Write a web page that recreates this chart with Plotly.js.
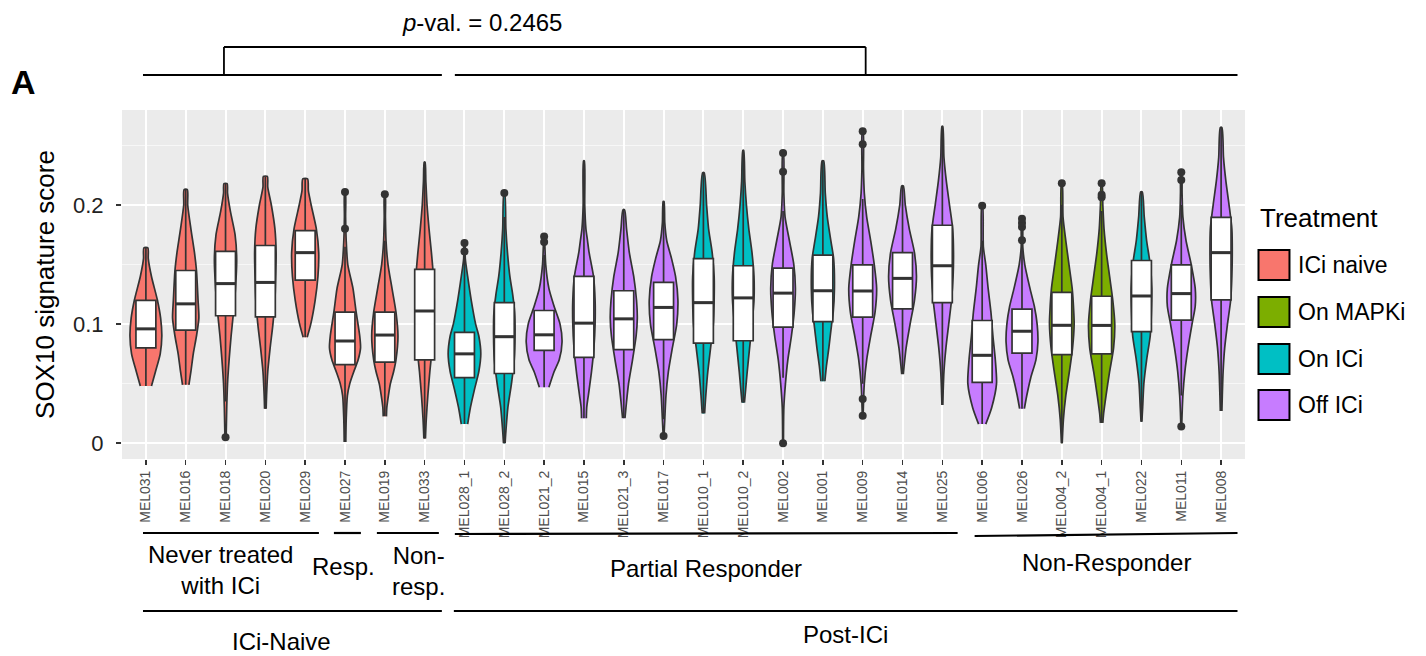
<!DOCTYPE html>
<html><head><meta charset="utf-8">
<script src="https://cdn.plot.ly/plotly-3.0.1.min.js"></script>
<style>html,body{margin:0;padding:0;background:#fff}#chart{width:1426px;height:656px}</style>
</head><body><div id="chart"></div>
<script>
// ---------- data ----------
const samples = ['MEL031','MEL016','MEL018','MEL020','MEL029','MEL027','MEL019','MEL033',
  'MEL028_1','MEL028_2','MEL021_2','MEL015','MEL021_3','MEL017','MEL010_1','MEL010_2',
  'MEL002','MEL001','MEL009','MEL014','MEL025','MEL006','MEL026','MEL004_2','MEL004_1',
  'MEL022','MEL011','MEL008'];
const treatmentLevels = ['ICi naive','On MAPKi','On ICi','Off ICi'];
const treatmentColors = ['#F8766D','#7CAE00','#00BFC4','#C77CFF'];
const treatment = ['ICi naive','ICi naive','ICi naive','ICi naive','ICi naive','ICi naive','ICi naive','ICi naive',
  'On ICi','On ICi','Off ICi','Off ICi','Off ICi','Off ICi','On ICi','On ICi',
  'Off ICi','On ICi','Off ICi','Off ICi','Off ICi','Off ICi','Off ICi','On MAPKi','On MAPKi',
  'On ICi','Off ICi','Off ICi'];
const q1 =     [0.080,0.095,0.107,0.106,0.137,0.066,0.068,0.070, 0.055,0.0585,0.078,0.072,0.0785,0.087,0.084,0.086,
  0.0975,0.102,0.1058,0.1128,0.118,0.051,0.0757,0.0744,0.075, 0.0936,0.1033,0.1203];
const median = [0.096,0.117,0.134,0.135,0.160,0.0858,0.0908,0.111, 0.075,0.0894,0.091,0.1008,0.1044,0.114,0.118,0.122,
  0.126,0.128,0.1278,0.1384,0.149,0.0738,0.094,0.099,0.0989, 0.1236,0.1256,0.160];
const q3 =     [0.120,0.145,0.161,0.166,0.1785,0.110,0.110,0.146, 0.093,0.118,0.1114,0.140,0.128,0.135,0.155,0.149,
  0.147,0.158,0.1498,0.160,0.183,0.103,0.1125,0.1267,0.1234, 0.1534,0.1498,0.1896];
const lowerWhisker = [0.048,0.049,0.035,0.029,0.089,0.003,0.0225,0.004, 0.016,0.0,0.047,0.021,0.021,0.02,0.025,0.034,
  0.055,0.052,0.05,0.058,0.032,0.016,0.029,0.0,0.017, 0.018,0.04,0.027];
const upperWhisker = [0.164,0.213,0.218,0.224,0.222,0.165,0.17,0.236, 0.155,0.19,0.158,0.237,0.196,0.203,0.227,0.246,
  0.195,0.237,0.205,0.216,0.266,0.17,0.165,0.2,0.195, 0.211,0.2,0.265];
const outliers = [[],[],[0.005],[],[],[0.180,0.211],[0.209],[],
  [0.161,0.168],[0.210],[0.169,0.1735],[],[],[0.006],[],[],
  [0.0,0.228,0.2437],[],[0.023,0.037,0.251,0.262],[],[],[0.1994],[0.1704,0.1816,0.185,0.1885],[0.2183],[0.2066,0.2086,0.2183],
  [],[0.0139,0.221,0.2275],[]];
// violin outline: score levels and half-widths (category units) read at those levels
const densityLevels = [
  [0.048,0.06,0.075,0.09,0.105,0.12,0.14,0.155,0.164],
  [0.049,0.06,0.075,0.09,0.105,0.12,0.145,0.16,0.18,0.20,0.213],
  [0.005,0.03,0.05,0.07,0.09,0.11,0.13,0.155,0.175,0.195,0.21,0.218],
  [0.029,0.04,0.06,0.08,0.10,0.12,0.14,0.16,0.18,0.20,0.215,0.224],
  [0.089,0.10,0.12,0.14,0.16,0.18,0.20,0.212,0.222],
  [0.001,0.02,0.04,0.05,0.06,0.07,0.08,0.09,0.11,0.13,0.15,0.17,0.19,0.211],
  [0.0225,0.03,0.04,0.05,0.06,0.07,0.09,0.11,0.13,0.15,0.17,0.19,0.209],
  [0.004,0.02,0.04,0.06,0.08,0.10,0.12,0.14,0.16,0.18,0.20,0.22,0.236],
  [0.016,0.03,0.045,0.06,0.075,0.09,0.10,0.12,0.14,0.155,0.168],
  [0.0,0.01,0.03,0.05,0.07,0.09,0.11,0.125,0.14,0.16,0.18,0.21],
  [0.047,0.06,0.07,0.085,0.10,0.115,0.13,0.15,0.165,0.173],
  [0.021,0.03,0.04,0.06,0.08,0.10,0.12,0.14,0.16,0.17,0.18,0.20,0.237],
  [0.021,0.035,0.05,0.07,0.09,0.105,0.12,0.14,0.16,0.18,0.196],
  [0.006,0.02,0.04,0.06,0.08,0.10,0.12,0.14,0.155,0.17,0.185,0.203],
  [0.025,0.04,0.06,0.08,0.10,0.12,0.14,0.16,0.18,0.20,0.227],
  [0.034,0.045,0.06,0.08,0.10,0.12,0.14,0.16,0.18,0.20,0.22,0.246],
  [0.0,0.03,0.05,0.07,0.09,0.11,0.13,0.15,0.17,0.19,0.21,0.243],
  [0.052,0.065,0.08,0.10,0.11,0.13,0.155,0.17,0.19,0.21,0.237],
  [0.023,0.05,0.07,0.09,0.11,0.13,0.15,0.17,0.19,0.21,0.23,0.262],
  [0.058,0.065,0.08,0.10,0.12,0.14,0.16,0.18,0.20,0.216],
  [0.032,0.06,0.08,0.10,0.12,0.14,0.16,0.18,0.20,0.22,0.24,0.266],
  [0.016,0.03,0.05,0.07,0.09,0.11,0.13,0.15,0.165,0.20],
  [0.029,0.04,0.055,0.07,0.085,0.10,0.115,0.13,0.15,0.165,0.187],
  [0.0,0.02,0.04,0.06,0.08,0.10,0.11,0.13,0.15,0.17,0.19,0.218],
  [0.017,0.025,0.04,0.06,0.08,0.10,0.12,0.14,0.16,0.18,0.20,0.218],
  [0.018,0.03,0.05,0.07,0.09,0.11,0.13,0.15,0.17,0.19,0.211],
  [0.014,0.04,0.06,0.08,0.10,0.115,0.13,0.15,0.17,0.19,0.21,0.227],
  [0.027,0.04,0.06,0.08,0.10,0.12,0.14,0.16,0.18,0.20,0.22,0.24,0.265]
];
const densityHalfWidths = [
  [0.14,0.24,0.36,0.40,0.37,0.29,0.14,0.06,0.05],
  [0.08,0.13,0.19,0.27,0.33,0.31,0.27,0.22,0.13,0.05,0.04],
  [0.015,0.03,0.05,0.09,0.14,0.20,0.25,0.28,0.24,0.12,0.05,0.04],
  [0.02,0.03,0.06,0.12,0.19,0.24,0.26,0.27,0.24,0.15,0.06,0.05],
  [0.05,0.14,0.25,0.32,0.34,0.28,0.15,0.08,0.06],
  [0.02,0.03,0.06,0.12,0.22,0.33,0.39,0.37,0.28,0.20,0.07,0.03,0.015,0.01],
  [0.04,0.05,0.09,0.14,0.22,0.28,0.33,0.28,0.18,0.08,0.03,0.015,0.01],
  [0.02,0.04,0.08,0.13,0.19,0.23,0.24,0.22,0.17,0.11,0.06,0.03,0.01],
  [0.08,0.15,0.25,0.36,0.41,0.36,0.28,0.17,0.08,0.02,0.01],
  [0.02,0.04,0.09,0.18,0.25,0.27,0.26,0.21,0.14,0.08,0.04,0.01],
  [0.12,0.25,0.38,0.45,0.40,0.25,0.12,0.04,0.02,0.01],
  [0.06,0.07,0.11,0.19,0.25,0.28,0.28,0.24,0.13,0.09,0.05,0.02,0.01],
  [0.03,0.07,0.12,0.22,0.31,0.34,0.32,0.25,0.14,0.07,0.02],
  [0.01,0.03,0.06,0.12,0.22,0.33,0.36,0.30,0.20,0.08,0.03,0.01],
  [0.03,0.06,0.11,0.18,0.25,0.27,0.27,0.22,0.13,0.08,0.02],
  [0.03,0.06,0.10,0.16,0.22,0.27,0.27,0.22,0.14,0.08,0.04,0.01],
  [0.01,0.02,0.06,0.12,0.21,0.28,0.31,0.27,0.16,0.05,0.02,0.01],
  [0.05,0.09,0.15,0.22,0.26,0.29,0.27,0.20,0.11,0.06,0.02],
  [0.01,0.04,0.10,0.20,0.31,0.35,0.29,0.20,0.10,0.04,0.02,0.01],
  [0.02,0.04,0.09,0.19,0.30,0.35,0.30,0.17,0.07,0.02],
  [0.01,0.04,0.09,0.16,0.23,0.27,0.28,0.26,0.18,0.10,0.04,0.01],
  [0.09,0.24,0.36,0.33,0.27,0.22,0.15,0.09,0.03,0.01],
  [0.06,0.12,0.22,0.35,0.40,0.38,0.31,0.20,0.07,0.02,0.01],
  [0.01,0.04,0.10,0.19,0.27,0.31,0.30,0.26,0.18,0.10,0.03,0.01],
  [0.03,0.05,0.11,0.20,0.30,0.33,0.28,0.20,0.12,0.06,0.03,0.01],
  [0.01,0.03,0.06,0.13,0.22,0.25,0.26,0.22,0.13,0.07,0.02],
  [0.01,0.04,0.09,0.17,0.27,0.35,0.35,0.25,0.12,0.04,0.02,0.01],
  [0.02,0.03,0.05,0.09,0.16,0.24,0.27,0.28,0.27,0.20,0.12,0.06,0.02]
];
const yTickVals = [0, 0.1, 0.2];
const yTickText = ['0', '0.1', '0.2'];

// ---------- geometry helpers (pixel -> paper) ----------
const PL = 122, PR = 1245.5, PT = 110, PB = 459;
const px = x => (x - PL) / (PR - PL);
const py = y => (PB - y) / (PB - PT);
const XR = [-0.6, 27.6];
const YR = [-0.0133, 0.2798];

const idx = samples.map((_, i) => i);
const colorOf = t => treatmentColors[treatmentLevels.indexOf(t)];

const traces = [];
samples.forEach((s, i) => {
  const lv = densityLevels[i], hw = densityHalfWidths[i];
  const xs = lv.map((_, k) => i + hw[k]).concat(lv.map((_, k) => i - hw[k]).reverse());
  const ys = lv.concat(lv.slice().reverse());
  traces.push({
    type: 'scatter', mode: 'lines', name: s, x: xs, y: ys,
    fill: 'toself', fillcolor: colorOf(treatment[i]),
    line: {color: '#333333', width: 1.7, shape: 'spline', smoothing: 0.7},
    hoverinfo: 'skip', showlegend: false, xaxis: 'x', yaxis: 'y'
  });
});
traces.push({
  type: 'box', x: idx, q1: q1, median: median, q3: q3,
  lowerfence: lowerWhisker, upperfence: upperWhisker,
  width: 0.5, whiskerwidth: 0, fillcolor: '#FFFFFF',
  line: {color: '#333333', width: 1.7}, boxpoints: false,
  hoverinfo: 'skip', showlegend: false, xaxis: 'x2', yaxis: 'y2'
});
// thicker median bars (ggplot fatten)
const mx = [], my = [];
idx.forEach(i => { mx.push(i - 0.25, i + 0.25, null); my.push(median[i], median[i], null); });
traces.push({type: 'scatter', mode: 'lines', x: mx, y: my, line: {color: '#333333', width: 3},
  hoverinfo: 'skip', showlegend: false, xaxis: 'x2', yaxis: 'y2'});
// outliers
const ox = [], oy = [];
outliers.forEach((arr, i) => arr.forEach(v => { ox.push(i); oy.push(v); }));
traces.push({type: 'scatter', mode: 'markers', x: ox, y: oy,
  marker: {color: '#333333', size: 8, line: {width: 0}},
  hoverinfo: 'skip', showlegend: false, xaxis: 'x2', yaxis: 'y2'});

// ---------- annotations & shapes ----------
const shapes = [];
const line = (x0, y0, x1, y1, w) => shapes.push({type: 'line', xref: 'paper', yref: 'paper',
  x0: px(x0), y0: py(y0), x1: px(x1), y1: py(y1), line: {color: '#000', width: w || 2.2}});
// top group lines and bracket
line(143, 75, 442, 75); line(455, 75, 1238, 75);
line(224, 75, 224, 47, 1.8); line(224, 47, 866, 47, 1.8); line(866, 47, 866, 75, 1.8);
// response lines
line(143, 533, 319, 533); line(334, 533, 361, 533); line(377, 533, 439, 533);
line(455, 534, 958, 533); line(975, 536, 1238, 533);
// group lines
line(143, 611, 442, 611); line(454, 611, 1238, 611);

const annotations = [];
const txt = (t, x, y, size, extra) => annotations.push(Object.assign({text: t, xref: 'paper', yref: 'paper',
  x: px(x), y: py(y), showarrow: false, xanchor: 'center', yanchor: 'middle',
  font: {size: size || 24, color: '#000'}}, extra || {}));
txt('<i>p</i>-val. = 0.2465', 482, 22, 24);
txt('<b>A</b>', 23, 82, 34);
txt('Never treated<br>with ICi', 221, 570, 24);
txt('Resp.', 344, 566, 24);
txt('Non-<br>resp.', 419, 571, 24);
txt('Partial Responder', 706, 568, 24);
txt('Non-Responder', 1107, 562, 24);
txt('ICi-Naive', 282, 641, 24);
txt('Post-ICi', 846, 634, 24);

// legend
txt('Treatment', 1259, 218, 26, {xanchor: 'left'});
const keyY = [265, 312, 359, 405];
treatmentLevels.forEach((lab, k) => {
  shapes.push({type: 'rect', xref: 'paper', yref: 'paper', x0: px(1259), x1: px(1290),
    y0: py(keyY[k] + 15), y1: py(keyY[k] - 15), fillcolor: treatmentColors[k],
    line: {color: '#000', width: 2}});
  txt(lab, 1297, keyY[k], 23, {xanchor: 'left'});
});

const layout = {
  width: 1426, height: 656,
  margin: {l: PL, r: 1426 - PR, t: PT, b: 656 - PB, pad: 0},
  paper_bgcolor: '#FFFFFF', plot_bgcolor: '#EBEBEB',
  font: {family: 'Liberation Sans, Arial, sans-serif', color: '#000'},
  showlegend: false,
  xaxis: {range: XR, tickvals: idx, ticktext: samples, tickangle: -90,
    tickfont: {size: 14, color: '#4D4D4D'}, ticks: 'outside', ticklen: 5, tickwidth: 1.5, tickcolor: '#333333',
    showgrid: true, gridcolor: '#FFFFFF', gridwidth: 2, zeroline: false, showline: false, fixedrange: true},
  yaxis: {range: YR, tickvals: yTickVals, ticktext: yTickText, ticklabelstandoff: 8,
    tickfont: {size: 22, color: '#222222'}, ticks: 'outside', ticklen: 5, tickwidth: 1.5, tickcolor: '#333333',
    showgrid: true, gridcolor: '#FFFFFF', gridwidth: 2, zeroline: false, showline: false, fixedrange: true,
    minor: {tickvals: [0.05, 0.15, 0.25], showgrid: true, gridcolor: '#F7F7F7', gridwidth: 1, ticks: ''},
    title: {text: 'SOX10 signature score', font: {size: 26, color: '#000'}, standoff: 10}},
  xaxis2: {overlaying: 'x', anchor: 'y2', range: XR, visible: false, fixedrange: true},
  yaxis2: {overlaying: 'y', anchor: 'x2', range: YR, visible: false, fixedrange: true},
  shapes: shapes, annotations: annotations
};
Plotly.newPlot('chart', traces, layout, {displayModeBar: false, staticPlot: true});
</script></body></html>
